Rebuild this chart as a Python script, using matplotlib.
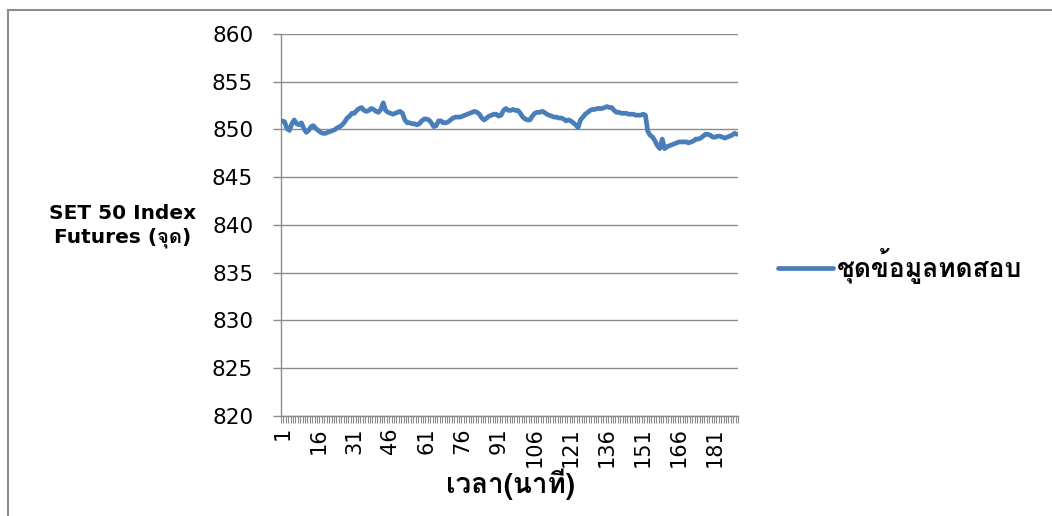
import matplotlib
matplotlib.use("Agg")
import matplotlib.pyplot as plt
from matplotlib import font_manager
from matplotlib.ft2font import FT2Font
from matplotlib.patches import Rectangle
from matplotlib.ticker import FixedLocator, NullFormatter

# SET 50 Index Futures, one value per minute
minutes = list(range(1, 191))
prices = [
    850.9, 850.8, 850.1, 849.9, 850.6, 851.0, 850.6, 850.5, 850.7, 850.1,
    849.7, 849.9, 850.3, 850.4, 850.1, 849.9, 849.7, 849.6, 849.6, 849.7,
    849.8, 849.9, 850.0, 850.2, 850.3, 850.5, 850.8, 851.2, 851.4, 851.7,
    851.7, 852.0, 852.2, 852.3, 852.0, 851.9, 852.0, 852.2, 852.1, 851.9,
    851.8, 852.1, 852.8, 852.0, 851.8, 851.7, 851.6, 851.7, 851.8, 851.9,
    851.7, 851.0, 850.7, 850.7, 850.6, 850.6, 850.5, 850.6, 850.9, 851.1,
    851.1, 851.0, 850.7, 850.3, 850.4, 850.9, 850.9, 850.7, 850.7, 850.8,
    851.0, 851.2, 851.3, 851.3, 851.3, 851.4, 851.5, 851.6, 851.7, 851.8,
    851.9, 851.8, 851.6, 851.2, 851.0, 851.2, 851.4, 851.5, 851.6, 851.6,
    851.4, 851.5, 852.0, 852.2, 852.0, 852.0, 852.1, 852.0, 852.0, 851.7,
    851.3, 851.1, 851.0, 851.0, 851.4, 851.7, 851.8, 851.8, 851.9, 851.8,
    851.6, 851.5, 851.4, 851.3, 851.3, 851.2, 851.2, 851.1, 850.9, 851.0,
    850.9, 850.7, 850.5, 850.2, 851.0, 851.3, 851.6, 851.8, 852.0, 852.1,
    852.1, 852.2, 852.2, 852.2, 852.3, 852.4, 852.3, 852.3, 852.0, 851.8,
    851.8, 851.7, 851.7, 851.7, 851.6, 851.6, 851.6, 851.5, 851.5, 851.5,
    851.6, 851.5, 849.8, 849.4, 849.2, 848.8, 848.3, 848.0, 849.0, 848.0,
    848.2, 848.3, 848.4, 848.5, 848.6, 848.7, 848.7, 848.7, 848.7, 848.6,
    848.7, 848.8, 849.0, 849.0, 849.1, 849.3, 849.5, 849.5, 849.4, 849.2,
    849.2, 849.3, 849.3, 849.2, 849.1, 849.2, 849.3, 849.4, 849.6, 849.5,
]
x_tick_labels = [str(m) for m in range(1, 191, 15)]
y_ticks = [820, 825, 830, 835, 840, 845, 850, 855, 860]

series_name = "ชุดข้อมูลทดสอบ"
x_title = "เวลา(นาที)"
y_title = "SET 50 Index\nFutures (จุด)"


def thai_family():
    """Return the name of an installed family that has Thai glyphs."""
    for entry in font_manager.fontManager.ttflist:
        try:
            cmap = FT2Font(entry.fname).get_charmap()
        except Exception:
            continue
        if 0x0E0A in cmap and 0x0E14 in cmap:
            return entry.name
    return None


thai = thai_family()
latin_first = ["DejaVu Sans", thai] if thai else ["DejaVu Sans"]
thai_first = [thai, "DejaVu Sans"] if thai else ["DejaVu Sans"]
plt.rcParams["font.family"] = thai_first

W, H = 1052, 516
fig = plt.figure(figsize=(W / 100, H / 100), dpi=100)
ax = fig.add_axes([281 / W, 1 - 416 / H, (738 - 281) / W, (416 - 34) / H])

line_color = "#4A7EBB"
grid_color = "#8C8C8C"

ax.plot(minutes, prices, color=line_color, lw=3.4, solid_joinstyle="round",
        solid_capstyle="round", label=series_name, zorder=3)

ax.set_xlim(0.5, len(minutes) + 0.5)
ax.set_ylim(820, 860)
ax.set_yticks(y_ticks)
ax.set_yticklabels([str(v) for v in y_ticks], fontsize=15.5, color="#000000",
                   family="DejaVu Sans")
ax.yaxis.grid(True, color=grid_color, lw=1.0)
ax.set_axisbelow(True)

ax.xaxis.set_major_locator(FixedLocator(list(range(1, 191, 15))))
ax.set_xticklabels(x_tick_labels, rotation=90, fontsize=15,
                   family="DejaVu Sans")
ax.xaxis.set_minor_locator(FixedLocator([i + 0.5 for i in range(0, 191)]))
ax.xaxis.set_minor_formatter(NullFormatter())
ax.tick_params(axis="x", which="major", length=0, pad=8)
ax.tick_params(axis="x", which="minor", length=5, width=0.8, color=grid_color)
ax.tick_params(axis="y", which="major", length=5.5, width=1.0,
               color=grid_color, pad=14.5)

for side in ("top", "right"):
    ax.spines[side].set_visible(False)
for side in ("left", "bottom"):
    ax.spines[side].set_color(grid_color)
    ax.spines[side].set_linewidth(1.0)

fig.text(510 / W, 1 - 484 / H, x_title, ha="center", va="center",
         fontsize=20, fontweight="bold", family=thai_first)
fig.text(123 / W, 1 - 226 / H, y_title, ha="center", va="center",
         fontsize=14.5, fontweight="bold", linespacing=1.35,
         family=latin_first)

ax.legend(loc="center left", bbox_to_anchor=(754 / W, 1 - 266 / H),
          bbox_transform=fig.transFigure, frameon=False,
          handlelength=2.1, handletextpad=0.15,
          prop={"size": 19, "weight": "bold", "family": thai_first})

# chart frame
fig.patches.append(Rectangle((8 / W, -0.1), 1.2, 1 - 10 / H + 0.1,
                             transform=fig.transFigure, fill=False,
                             edgecolor="#8C8C8C", lw=1.5))

fig.savefig("out.png", dpi=100)
